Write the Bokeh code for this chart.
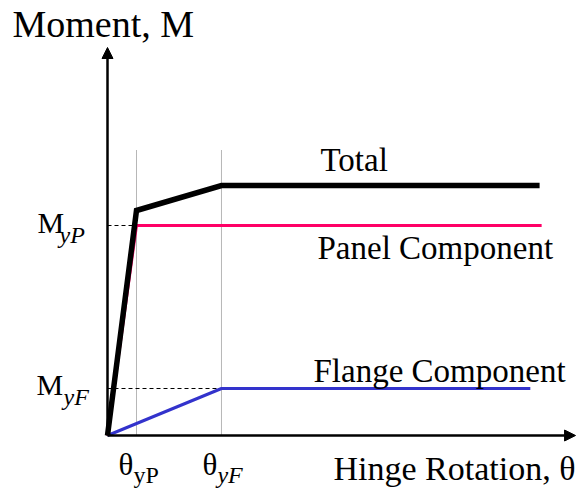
from bokeh.plotting import figure
from bokeh.models import Range1d, Label, Arrow, NormalHead
from bokeh.embed import file_html
from bokeh.resources import INLINE

# ---- data ----
theta_yP = 1.0
theta_yF = 3.93
M_yP = 21.0
M_yF = 4.7

total_theta = [0.0, 1.0, 3.93, 14.9]
total_M = [0.0, 22.5, 25.0, 25.0]

panel_theta = [0.0, 1.0, 14.97]
panel_M = [0.0, 21.0, 21.0]

flange_theta = [0.0, 3.93, 14.58]
flange_M = [0.0, 4.7, 4.7]

guide_top = 28.6
x_axis_end = 16.14
y_axis_end = 38.8

# ---- figure ----
W, H = 576, 488
PX_X = 29.0   # pixels per theta unit
PX_Y = 10.0   # pixels per moment unit
x0_px = 107.0  # origin from left
y0_px = 53.0   # origin from bottom

p = figure(width=W, height=H, output_backend="svg", toolbar_location=None,
           x_range=Range1d(-x0_px / PX_X, (W - x0_px) / PX_X),
           y_range=Range1d(-y0_px / PX_Y, (H - y0_px) / PX_Y),
           min_border=0, outline_line_color=None)
p.axis.visible = False
p.grid.visible = False
p.background_fill_color = "white"
p.border_fill_color = "white"

FONT = "'Liberation Serif', 'Times New Roman', serif"

# guide lines
for tx in (theta_yP, theta_yF):
    p.line([tx, tx], [0, guide_top], line_color="#6e6e6e", line_width=1, line_dash="1 1")
p.line([0, theta_yP], [M_yP, M_yP], line_color="black", line_width=1, line_dash="4 3")
p.line([0, theta_yF], [M_yF, M_yF], line_color="black", line_width=1, line_dash="4 3")

# series
p.line(flange_theta, flange_M, line_color="#3333cc", line_width=3)
p.line(panel_theta, panel_M, line_color="#ff0066", line_width=3)
p.line(total_theta, total_M, line_color="black", line_width=5.5, line_join="miter")

# axes with arrows
p.add_layout(Arrow(end=NormalHead(size=11, fill_color="black", line_color="black"),
                   x_start=0, y_start=0, x_end=x_axis_end, y_end=0,
                   line_color="black", line_width=2.5))
p.add_layout(Arrow(end=NormalHead(size=11, fill_color="black", line_color="black"),
                   x_start=0, y_start=0, x_end=0, y_end=y_axis_end,
                   line_color="black", line_width=2.5))

SHIFT = 0.36  # baseline correction, fraction of the font size


def lab(text, x, y, size, style="normal", align="left", units="data"):
    dy = SHIFT * size
    y = y + (dy if units == "screen" else dy / PX_Y)
    p.add_layout(Label(x=x, y=y, x_units=units, y_units=units, text=text,
                       text_font=FONT, text_font_size=f"{size}px",
                       text_font_style=style, text_align=align,
                       text_baseline="alphabetic", text_color="black"))


# titles (screen units: from left / from bottom)
lab("Moment, M", 12, 451, 38, units="screen")
lab("Hinge Rotation, \u03b8", 575, 8, 34, align="right", units="screen")

# series labels
lab("Total", 320, 317, 33, units="screen")
lab("Panel Component", 317, 229, 33, units="screen")
lab("Flange Component", 313, 106, 33, units="screen")

# moment labels
lab("M", -70 / PX_X, M_yP - 8 / PX_Y, 30)
lab("yP", -48 / PX_X, M_yP - 18 / PX_Y, 24, style="italic")
lab("M", -71 / PX_X, M_yF - 7 / PX_Y, 30)
lab("yF", -44 / PX_X, M_yF - 17 / PX_Y, 24, style="italic")

# rotation labels
lab("\u03b8", theta_yP - 18 / PX_X, -40 / PX_Y, 31)
lab("yP", theta_yP - 3 / PX_X, -48 / PX_Y, 24)
lab("\u03b8", theta_yF - 19 / PX_X, -40 / PX_Y, 31)
lab("yF", theta_yF - 4 / PX_X, -48 / PX_Y, 24, style="italic")

open("out.html", "w").write(file_html(p, INLINE))
